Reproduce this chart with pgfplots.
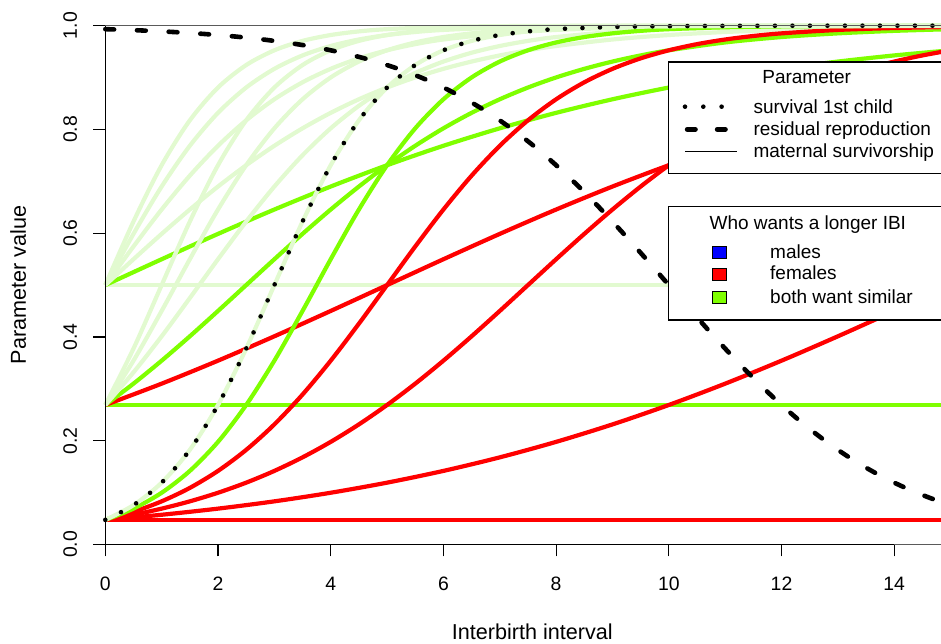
\documentclass[border=0pt]{standalone}
\usepackage{pgfplots}
\pgfplotsset{compat=1.18}
\usepackage{fontspec}
\setmainfont{Liberation Sans}
\definecolor{pale}{RGB}{226,250,208}
\definecolor{chart}{RGB}{127,255,0}
\definecolor{rred}{RGB}{255,0,0}
\definecolor{rblue}{RGB}{0,0,255}
\definecolor{boxgray}{RGB}{90,90,90}
\begin{document}
\begin{tikzpicture}
\begin{axis}[
  at={(0,0)}, anchor=south west,
  scale only axis, width=835.7pt, height=518.8pt,
  xmin=0, xmax=14.83, ymin=0, ymax=1,
  axis x line*=bottom, axis y line*=left,
  axis line style={draw=none},
  xtick={0,2,4,6,8,10,12,14},
  ytick={0,0.2,0.4,0.6,0.8,1.0},
  xticklabels={}, yticklabels={},
  tick align=outside, major tick length=12pt,
  tick style={black, line width=1.2pt},
  clip=false,
  every axis plot/.append style={smooth, line width=4.2pt, line join=round},
]
% b = 0
\addplot[rred] coordinates {(0,0.04743) (15,0.04743)};
\addplot[chart] coordinates {(0,0.26894) (15,0.26894)};
\addplot[pale] coordinates {(0,0.5) (15,0.5)};
% b = 0.2
\addplot[rred] coordinates {(0,0.04743)(1,0.05732)(2,0.06914)(3,0.08317)(4,0.09975)(5,0.11920)(6,0.14185)(7,0.16798)(8,0.19782)(9,0.23148)(10,0.26894)(11,0.31003)(12,0.35434)(13,0.40131)(14,0.45017)(15,0.5)};
\addplot[rred] coordinates {(0,0.26894)(1,0.31003)(2,0.35434)(3,0.40131)(4,0.45017)(5,0.5)(6,0.54983)(7,0.59869)(8,0.64566)(9,0.68997)(10,0.73106)(11,0.76852)(12,0.80218)(13,0.83202)(14,0.85815)(15,0.88080)};
\addplot[chart] coordinates {(0,0.5)(1,0.54983)(2,0.59869)(3,0.64566)(4,0.68997)(5,0.73106)(6,0.76852)(7,0.80218)(8,0.83202)(9,0.85815)(10,0.88080)(11,0.90025)(12,0.91683)(13,0.93086)(14,0.94268)(15,0.95257)};
% b = 0.4
\addplot[rred] coordinates {(0,0.04743)(0.5,0.05732)(1,0.06914)(1.5,0.08317)(2,0.09975)(2.5,0.11920)(3,0.14185)(3.5,0.16798)(4,0.19782)(4.5,0.23148)(5,0.26894)(5.5,0.31003)(6,0.35434)(6.5,0.40131)(7,0.45017)(7.5,0.5)(8,0.54983)(8.5,0.59869)(9,0.64566)(9.5,0.68997)(10,0.73106)(10.5,0.76852)(11,0.80218)(11.5,0.83202)(12,0.85815)(12.5,0.88080)(13,0.90025)(13.5,0.91683)(14,0.93086)(14.5,0.94268)(15,0.95257)};
\addplot[chart] coordinates {(0,0.26894)(0.5,0.31003)(1,0.35434)(1.5,0.40131)(2,0.45017)(2.5,0.5)(3,0.54983)(3.5,0.59869)(4,0.64566)(4.5,0.68997)(5,0.73106)(5.5,0.76852)(6,0.80218)(6.5,0.83202)(7,0.85815)(7.5,0.88080)(8,0.90025)(8.5,0.91683)(9,0.93086)(9.5,0.94268)(10,0.95257)(11,0.96771)(12,0.97812)(13,0.98522)(14,0.99005)(15,0.99331)};
\addplot[pale] coordinates {(0,0.5)(0.5,0.54983)(1,0.59869)(1.5,0.64566)(2,0.68997)(2.5,0.73106)(3,0.76852)(3.5,0.80218)(4,0.83202)(4.5,0.85815)(5,0.88080)(5.5,0.90025)(6,0.91683)(6.5,0.93086)(7,0.94268)(7.5,0.95257)(8,0.96084)(9,0.97340)(10,0.98201)(11,0.98787)(12,0.99184)(13,0.99451)(14,0.99632)(15,0.99753)};
% b = 0.6
\addplot[rred] coordinates {(0,0.04743)(0.5,0.06297)(1,0.08317)(1.5,0.10910)(2,0.14185)(2.5,0.18243)(3,0.23148)(3.5,0.28905)(4,0.35434)(4.5,0.42556)(5,0.5)(5.5,0.57444)(6,0.64566)(6.5,0.71095)(7,0.76852)(7.5,0.81757)(8,0.85815)(8.5,0.89090)(9,0.91683)(9.5,0.93703)(10,0.95257)(10.5,0.96443)(11,0.97340)(11.5,0.98016)(12,0.98522)(13,0.99184)(14,0.99550)(15,0.99753)};
\addplot[pale] coordinates {(0,0.26894)(0.5,0.33181)(1,0.40131)(1.5,0.47502)(2,0.54983)(2.5,0.62246)(3,0.68997)(3.5,0.75026)(4,0.80218)(4.5,0.84553)(5,0.88080)(5.5,0.90888)(6,0.93086)(6.5,0.94785)(7,0.96084)(7.5,0.97069)(8,0.97812)(9,0.98787)(10,0.99331)(12,0.99797)(15,0.99966)};
\addplot[pale] coordinates {(0,0.5)(0.5,0.57444)(1,0.64566)(1.5,0.71095)(2,0.76852)(2.5,0.81757)(3,0.85815)(3.5,0.89090)(4,0.91683)(4.5,0.93703)(5,0.95257)(5.5,0.96443)(6,0.97340)(7,0.98522)(8,0.99184)(9,0.99550)(10,0.99753)(12,0.99925)(15,0.99988)};
% b = 0.8
\addplot[chart] coordinates {(0,0.04743)(0.5,0.06914)(1,0.09975)(1.5,0.14185)(2,0.19782)(2.5,0.26894)(3,0.35434)(3.5,0.45017)(4,0.54983)(4.5,0.64566)(5,0.73106)(5.5,0.80218)(6,0.85815)(6.5,0.90025)(7,0.93086)(7.5,0.95257)(8,0.96771)(8.5,0.97812)(9,0.98522)(9.5,0.99005)(10,0.99331)(11,0.99698)(12,0.99864)(13,0.99939)(15,0.99988)};
\addplot[pale] coordinates {(0,0.26894)(0.5,0.35434)(1,0.45017)(1.5,0.54983)(2,0.64566)(2.5,0.73106)(3,0.80218)(3.5,0.85815)(4,0.90025)(4.5,0.93086)(5,0.95257)(5.5,0.96771)(6,0.97812)(6.5,0.98522)(7,0.99005)(8,0.99550)(9,0.99797)(11,0.99959)(15,0.99998)};
\addplot[pale] coordinates {(0,0.5)(0.5,0.59869)(1,0.68997)(1.5,0.76852)(2,0.83202)(2.5,0.88080)(3,0.91683)(3.5,0.94268)(4,0.96084)(4.5,0.97340)(5,0.98201)(5.5,0.98787)(6,0.99184)(7,0.99632)(8,0.99834)(10,0.99966)(15,0.99999)};
% b = 1.0
\addplot[pale] coordinates {(0,0.04743)(0.5,0.07586)(1,0.11920)(1.5,0.18243)(2,0.26894)(2.5,0.37754)(3,0.5)(3.5,0.62246)(4,0.73106)(4.5,0.81757)(5,0.88080)(5.5,0.92414)(6,0.95257)(6.5,0.97069)(7,0.98201)(7.5,0.98901)(8,0.99331)(9,0.99753)(10,0.99909)(12,0.99988)(15,0.99999)};
\addplot[pale] coordinates {(0,0.26894)(0.5,0.37754)(1,0.5)(1.5,0.62246)(2,0.73106)(2.5,0.81757)(3,0.88080)(3.5,0.92414)(4,0.95257)(4.5,0.97069)(5,0.98201)(5.5,0.98901)(6,0.99331)(7,0.99753)(8,0.99909)(10,0.99988)(15,1.0)};
\addplot[pale] coordinates {(0,0.5)(0.5,0.62246)(1,0.73106)(1.5,0.81757)(2,0.88080)(2.5,0.92414)(3,0.95257)(3.5,0.97069)(4,0.98201)(4.5,0.98901)(5,0.99331)(6,0.99753)(7,0.99909)(9,0.99988)(15,1.0)};
% survival 1st child (dotted)
\addplot[black, line width=4.6pt, line cap=round, dash pattern=on 0pt off 17.5pt] coordinates {(0,0.04743)(0.5,0.07586)(1,0.11920)(1.5,0.18243)(2,0.26894)(2.5,0.37754)(3,0.5)(3.5,0.62246)(4,0.73106)(4.5,0.81757)(5,0.88080)(5.5,0.92414)(6,0.95257)(6.5,0.97069)(7,0.98201)(7.5,0.98901)(8,0.99331)(9,0.99753)(10,0.99909)(12,0.99988)(15,0.99999)};
% residual reproduction (dashed)
\addplot[black, line width=4.6pt, line cap=round, dash pattern=on 8.8pt off 22.9pt] coordinates {(0,0.99331)(0.4,0.99184)(0.8,0.99005)(1.2,0.98787)(1.6,0.98522)(2.0,0.98201)(2.4,0.97812)(2.8,0.97340)(3.2,0.96771)(3.6,0.96084)(4.0,0.95257)(4.4,0.94268)(4.8,0.93086)(5.2,0.91683)(5.6,0.90025)(6.0,0.88080)(6.4,0.85815)(6.8,0.83202)(7.2,0.80218)(7.6,0.76852)(8.0,0.73106)(8.4,0.68997)(8.8,0.64566)(9.2,0.59869)(9.6,0.54983)(10,0.5)(10.4,0.45017)(10.8,0.40131)(11.2,0.35434)(11.6,0.31003)(12,0.26894)(12.4,0.23148)(12.8,0.19782)(13.2,0.16798)(13.6,0.14185)(14,0.11920)(14.4,0.09975)(14.8,0.08317)(15.2,0.06914)};
\end{axis}
% axis lines and box
\draw[boxgray, line width=1.2pt] (0,518.8pt) -- (845pt,518.8pt);
\draw[boxgray, line width=1.2pt] (788.9pt,0) -- (845pt,0);
\draw[black, line width=1.2pt] (0,518.8pt) -- (0,0) -- (788.9pt,0);
% tick labels
\begin{scope}[font=\fontsize{19.4}{23}\selectfont]
\node[anchor=base, inner sep=0pt] at (0pt,-46.3pt) {0};
\node[anchor=base, inner sep=0pt] at (112.7pt,-46.3pt) {2};
\node[anchor=base, inner sep=0pt] at (225.4pt,-46.3pt) {4};
\node[anchor=base, inner sep=0pt] at (338.1pt,-46.3pt) {6};
\node[anchor=base, inner sep=0pt] at (450.8pt,-46.3pt) {8};
\node[anchor=base, inner sep=0pt] at (563.5pt,-46.3pt) {10};
\node[anchor=base, inner sep=0pt] at (676.2pt,-46.3pt) {12};
\node[anchor=base, inner sep=0pt] at (788.9pt,-46.3pt) {14};
\node[anchor=base, rotate=90, inner sep=0pt] at (-28.5pt,0pt) {0.0};
\node[anchor=base, rotate=90, inner sep=0pt] at (-28.5pt,103.76pt) {0.2};
\node[anchor=base, rotate=90, inner sep=0pt] at (-28.5pt,207.52pt) {0.4};
\node[anchor=base, rotate=90, inner sep=0pt] at (-28.5pt,311.28pt) {0.6};
\node[anchor=base, rotate=90, inner sep=0pt] at (-28.5pt,415.04pt) {0.8};
\node[anchor=base, rotate=90, inner sep=0pt] at (-28.5pt,518.8pt) {1.0};
\end{scope}
% axis titles
\node[anchor=base, inner sep=0pt, font=\fontsize{21.6}{26}\selectfont] at (427pt,-95pt) {Interbirth interval};
\node[anchor=base, rotate=90, inner sep=0pt, font=\fontsize{21.6}{26}\selectfont] at (-79.3pt,259.4pt) {Parameter value};
% legend 1
\begin{scope}[font=\fontsize{19}{23}\selectfont]
\filldraw[fill=white, draw=black, line width=1.2pt] (845pt,482.5pt) -- (562.8pt,482.5pt) -- (562.8pt,370.8pt) -- (845pt,370.8pt);
\node[anchor=base, inner sep=0pt] at (701.4pt,460.5pt) {Parameter};
\draw[black, line width=4.6pt, line cap=round, dash pattern=on 0pt off 18.3pt] (579.7pt,437.8pt) -- (618pt,437.8pt);
\draw[black, line width=5pt, line cap=round, dash pattern=on 8pt off 22pt] (582pt,415.2pt) -- (621pt,415.2pt);
\draw[black, line width=1.3pt] (579.7pt,392.8pt) -- (631.7pt,392.8pt);
\node[anchor=base west, inner sep=0pt] at (648pt,431.2pt) {survival 1st child};
\node[anchor=base west, inner sep=0pt] at (648pt,408.5pt) {residual reproduction};
\node[anchor=base west, inner sep=0pt] at (648pt,386.8pt) {maternal survivorship};
% legend 2
\filldraw[fill=white, draw=black, line width=1.2pt] (845pt,337.8pt) -- (563pt,337.8pt) -- (563pt,224.5pt) -- (845pt,224.5pt);
\node[anchor=base, inner sep=0pt] at (702.5pt,314.5pt) {Who wants a longer IBI};
\filldraw[fill=rblue, draw=black, line width=0.8pt] (607pt,286.2pt) rectangle (621.4pt,297.8pt);
\filldraw[fill=rred, draw=black, line width=0.8pt] (607pt,264.5pt) rectangle (621.4pt,276.1pt);
\filldraw[fill=chart, draw=black, line width=0.8pt] (607pt,241.2pt) rectangle (621.4pt,252.8pt);
\node[anchor=base west, inner sep=0pt] at (664.7pt,286.2pt) {males};
\node[anchor=base west, inner sep=0pt] at (664.7pt,264.5pt) {females};
\node[anchor=base west, inner sep=0pt] at (664.7pt,241.2pt) {both want similar};
\end{scope}
\pgfresetboundingbox
\path (-105.3pt,-99.5pt) rectangle (835.7pt,544.5pt);
\end{tikzpicture}
\end{document}
